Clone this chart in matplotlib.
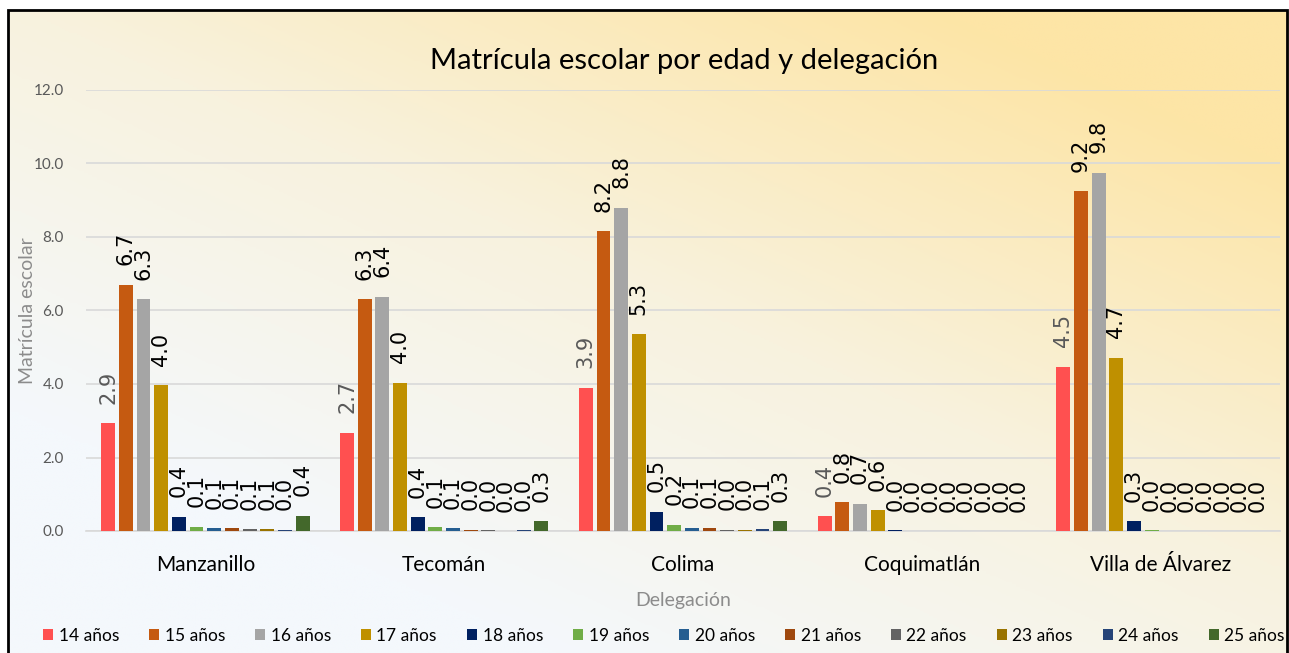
import numpy as np
import matplotlib.pyplot as plt
from matplotlib.colors import LinearSegmentedColormap
from matplotlib.patches import Rectangle

plt.rcParams['font.family'] = ['Lato', 'DejaVu Sans']

delegaciones = ['Manzanillo', 'Tecomán', 'Colima', 'Coquimatlán', 'Villa de Álvarez']
edades = ['14 años', '15 años', '16 años', '17 años', '18 años', '19 años',
          '20 años', '21 años', '22 años', '23 años', '24 años', '25 años']
colores = ['#FF5050', '#C55A11', '#A5A5A5', '#BF9000', '#002060', '#70AD47',
           '#255E91', '#9E480E', '#636363', '#997300', '#264478', '#43682B']

# values per delegación, one list per age (14..25)
valores = {
    '14 años': [2.93, 2.68, 3.90, 0.40, 4.47],
    '15 años': [6.70, 6.31, 8.16, 0.79, 9.25],
    '16 años': [6.30, 6.38, 8.80, 0.74, 9.75],
    '17 años': [3.97, 4.03, 5.35, 0.56, 4.72],
    '18 años': [0.39, 0.38, 0.52, 0.02, 0.27],
    '19 años': [0.12, 0.10, 0.17, 0.00, 0.02],
    '20 años': [0.08, 0.07, 0.09, 0.00, 0.00],
    '21 años': [0.07, 0.03, 0.09, 0.00, 0.00],
    '22 años': [0.05, 0.02, 0.03, 0.00, 0.00],
    '23 años': [0.05, 0.00, 0.03, 0.00, 0.00],
    '24 años': [0.03, 0.02, 0.05, 0.00, 0.00],
    '25 años': [0.42, 0.27, 0.27, 0.00, 0.00],
}

fig = plt.figure(figsize=(12.89, 6.53), dpi=100)

# gradient background
bg = fig.add_axes([0, 0, 1, 1], zorder=-2)
gx, gy = np.meshgrid(np.linspace(0, 1, 300), np.linspace(0, 1, 300))
g = np.clip(0.7 * gx + 0.8 * gy - 0.3, 0, 1)
cmap = LinearSegmentedColormap.from_list('bg', ['#F4F8FC', '#F8F2DE', '#FDE5A6'])
bg.imshow(g, cmap=cmap, origin='lower', extent=[0, 1, 0, 1], aspect='auto')
bg.set_xlim(0, 1)
bg.set_ylim(0, 1)
bg.axis('off')
fig.patches.append(Rectangle((0, 1 - 10 / 653), 1, 10 / 653, transform=fig.transFigure,
                             color='white', zorder=-1))
fig.patches.append(Rectangle((0, 0), 8 / 1289, 1, transform=fig.transFigure,
                             color='white', zorder=-1))
fig.patches.append(Rectangle((8 / 1289, -0.01), (1287 - 8) / 1289, 1 - 10 / 653 + 0.01,
                             transform=fig.transFigure, fill=False, ec='black', lw=2, zorder=5))

ax = fig.add_axes([86 / 1289, 1 - 531 / 653, (1280 - 86) / 1289, (531 - 90) / 653])
ax.patch.set_alpha(0)

x = np.arange(len(delegaciones))
step = 0.074
width = 0.058
for i, edad in enumerate(edades):
    pos = x + (i - 5.5) * step
    bars = ax.bar(pos, valores[edad], width, color=colores[i], label=edad, zorder=3)
    lab_color = '#595959' if i == 0 else 'black'
    for b, v in zip(bars, valores[edad]):
        ax.annotate(f'{v:.1f}', (b.get_x() + b.get_width() / 2, b.get_height()),
                    xytext=(0, 14), textcoords='offset points', rotation=90,
                    ha='center', va='bottom', fontsize=15, color=lab_color,
                    family='DejaVu Sans')

ax.set_ylim(0, 12)
ax.set_xlim(-0.5, 4.5)
ax.set_yticks(np.arange(0, 12.1, 2))
ax.set_yticklabels([f'{t:.1f}' for t in np.arange(0, 12.1, 2)])
ax.set_xticks(x)
ax.set_xticklabels(delegaciones, fontsize=15)
ax.tick_params(axis='y', length=0, labelsize=11, labelcolor='#595959', pad=16)
ax.tick_params(axis='x', length=0, pad=17)
ax.grid(axis='y', color='#D9D9D9', lw=1.2, zorder=0)
for s in ['top', 'right', 'left']:
    ax.spines[s].set_visible(False)
ax.spines['bottom'].set_color('#D9D9D9')
ax.spines['bottom'].set_linewidth(1.2)

ax.set_ylabel('Matrícula escolar', fontsize=14, color='#8C8C8C')
ax.yaxis.set_label_coords(-50 / 1194, 0.5)
ax.set_xlabel('Delegación', fontsize=14, color='#8C8C8C')
ax.xaxis.set_label_coords(0.5, -61 / 441)

fig.text(0.531, 1 - 61 / 653, 'Matrícula escolar por edad y delegación',
         ha='center', va='center', fontsize=21)

fig.legend(loc='center', bbox_to_anchor=(0.515, 1 - 636 / 653), ncol=12, frameon=False,
           fontsize=12.5, handlelength=0.6, handleheight=0.6, handletextpad=0.3,
           columnspacing=1.73)

plt.savefig('out.png', dpi=100)
